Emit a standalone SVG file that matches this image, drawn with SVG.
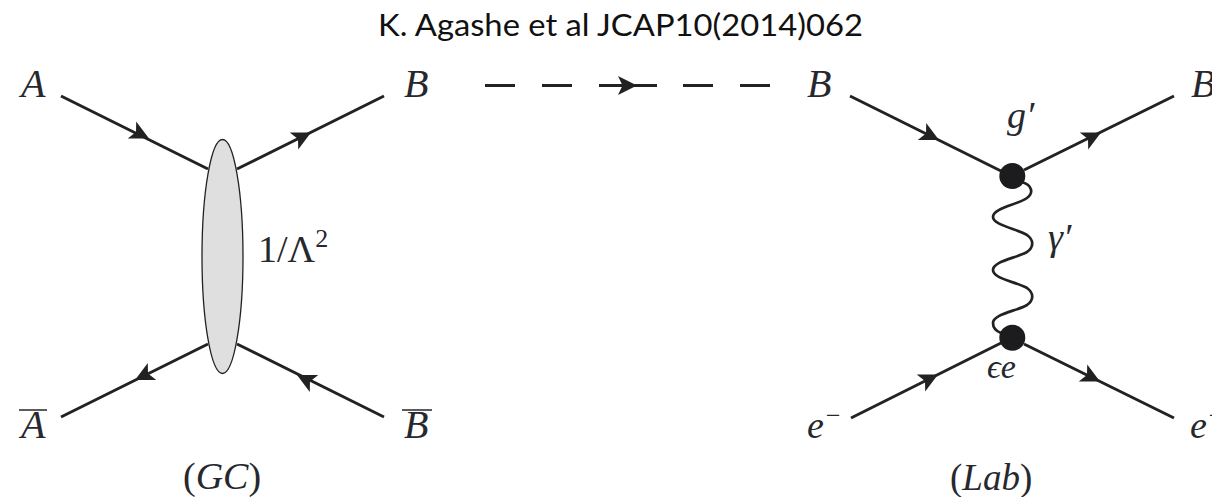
<svg xmlns="http://www.w3.org/2000/svg" width="1212" height="497" viewBox="0 0 1212 497">
<style>
.m{font-family:"Liberation Serif","Times New Roman",serif;font-style:italic;font-size:38px;fill:#26282e}
.c{font-size:40px}
.u{font-style:normal}
.s{font-size:26px}
.t{font-family:Lato,"Open Sans",sans-serif;font-size:30.5px;font-weight:400;fill:#111}
.l{fill:none;stroke:#222;stroke-width:3;stroke-linecap:butt}
.w{fill:none;stroke:#222;stroke-width:2.7}
.h{fill:#222}
.o{stroke:#333;stroke-width:1.6}
</style>
<defs>
<path id="ah" d="M0 0L-19 -9.5L-14.5 0L-19 9.5Z"/>
</defs>
<rect width="1212" height="497" fill="#fff"/>
<g id="title"><text class="t" x="378" y="36" textLength="485" lengthAdjust="spacingAndGlyphs">K. Agashe et al JCAP10(2014)062</text></g>
<g id="connectors">
<path class="l" d="M61 96L208 169M237 169L384 96M61 417L208 344M384 417L237 344"/>
<path class="l" d="M850 96L1001 171M1024 170L1174 96M851 418L1001 343M1024 344L1174 418"/>
<path class="l" d="M485 85.5H515M542 85.5H572M599 85.5H657M683 85.5H713M740 85.5H770"/>
<path class="w" d="M1022 182C1032 185 1034 193 1027 198C1017 205 993 208 993 217C993 225 1017 229 1027 235C1034 240 1034 247 1027 252C1017 258 993 261 993 270C993 279 1017 282 1027 288C1034 293 1034 300 1027 305C1017 311 993 314 993 323C993 328 996 331 1001 333"/>
<g class="h">
<use href="#ah" transform="translate(149 138.5) rotate(26.4)"/>
<use href="#ah" transform="translate(311 132.5) rotate(-26.4)"/>
<use href="#ah" transform="translate(135 380) rotate(153.6)"/>
<use href="#ah" transform="translate(297 375) rotate(206.4)"/>
<use href="#ah" transform="translate(637 85.5)"/>
<use href="#ah" transform="translate(939 140) rotate(26.4)"/>
<use href="#ah" transform="translate(1101 132.5) rotate(-26.4)"/>
<use href="#ah" transform="translate(938 374.5) rotate(-26.4)"/>
<use href="#ah" transform="translate(1100 381.5) rotate(26.4)"/>
</g>
</g>
<g id="blob"><ellipse cx="222.5" cy="256.5" rx="20.5" ry="117" fill="#dfdfdf" stroke="#222" stroke-width="1.3"/></g>
<g id="vertex-top"><circle cx="1012.3" cy="176" r="13" fill="#1c1c1e"/></g>
<g id="vertex-bottom"><circle cx="1012.3" cy="337.7" r="13" fill="#1c1c1e"/></g>
<g id="label-a"><text class="m c" x="21" y="97">A</text></g>
<g id="label-b"><text class="m c" x="404" y="97">B</text></g>
<g id="label-abar"><text class="m c" x="21" y="438">A</text><line class="o" x1="19" y1="410" x2="47" y2="410"/></g>
<g id="label-bbar"><text class="m c" x="404" y="438">B</text><line class="o" x1="402" y1="410" x2="432" y2="410"/></g>
<g id="label-lambda"><text class="m u" x="258" y="262">1/Λ<tspan class="s" dy="-15">2</tspan></text></g>
<g id="label-gc"><text class="m" x="183" y="489"><tspan class="u">(</tspan>GC<tspan class="u">)</tspan></text></g>
<g id="label-b2"><text class="m c" x="807" y="97">B</text></g>
<g id="label-b3"><text class="m c" x="1191" y="97">B</text></g>
<g id="label-g"><text class="m" x="1007" y="128">g′</text></g>
<g id="label-gamma"><text class="m" x="1048" y="250">γ′</text></g>
<g id="label-ee"><text class="m" x="987" y="378" style="font-size:34px">ϵe</text></g>
<g id="label-e1"><text class="m" x="807" y="438">e<tspan class="s" dy="-14">−</tspan></text></g>
<g id="label-e2"><text class="m" x="1190" y="438">e<tspan class="s" dy="-14">−</tspan></text></g>
<g id="label-lab"><text class="m" x="950" y="490" style="font-size:37px"><tspan class="u">(</tspan>Lab<tspan class="u">)</tspan></text></g>
</svg>
